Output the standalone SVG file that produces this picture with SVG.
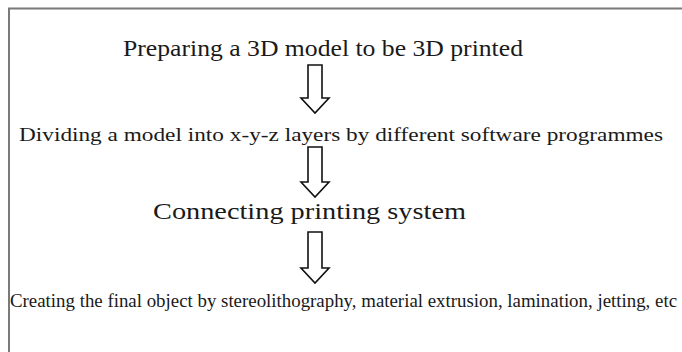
<svg xmlns="http://www.w3.org/2000/svg" width="682" height="352" viewBox="0 0 682 352">
<style>
.t{font-family:"Liberation Serif","Times New Roman",serif;fill:#1a1a1a}
.arr{fill:#fff;stroke:#111;stroke-width:1.6;stroke-linejoin:miter}
.frame{fill:none;stroke:#7a7a7a;stroke-width:2}
</style>
<rect width="682" height="352" fill="#fff"/>
<path class="frame" d="M9 360 V8.5 H690"/>
<g id="n1"><text class="t" x="123" y="56" font-size="24" textLength="400" lengthAdjust="spacingAndGlyphs">Preparing a 3D model to be 3D printed</text></g>
<g id="n2"><text class="t" x="19" y="141" font-size="19" textLength="644" lengthAdjust="spacingAndGlyphs">Dividing a model into x-y-z layers by different software programmes</text></g>
<g id="n3"><text class="t" x="153" y="219" font-size="24" textLength="313" lengthAdjust="spacingAndGlyphs">Connecting printing system</text></g>
<g id="n4"><text class="t" x="10" y="307" font-size="19" textLength="667" lengthAdjust="spacingAndGlyphs">Creating the final object by stereolithography, material extrusion, lamination, jetting, etc</text></g>
<g id="connectors">
<path class="arr" d="M308 65 H322 V98 H329 L315 113 L301 98 H308 Z"/>
<path class="arr" d="M308 147 H322 V182 H329 L315 197 L301 182 H308 Z"/>
<path class="arr" d="M308 232 H322 V268 H329 L315 283 L301 268 H308 Z"/>
</g>
</svg>
